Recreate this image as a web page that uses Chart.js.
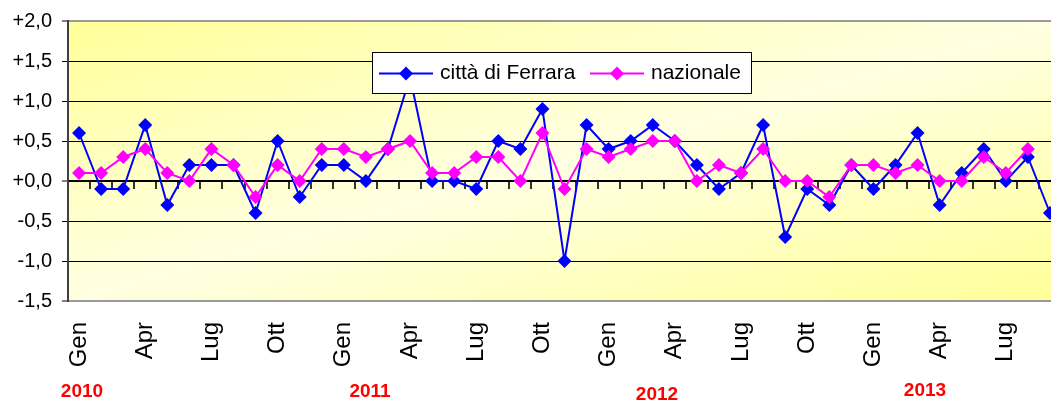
<!DOCTYPE html>
<html>
<head>
<meta charset="utf-8">
<script src="https://cdn.jsdelivr.net/npm/chart.js@4/dist/chart.umd.min.js"></script>
<style>
  html, body { margin: 0; padding: 0; overflow: hidden; background: #fff; }
  #wrap { position: relative; width: 1062px; height: 402px; }
</style>
</head>
<body>
<div id="wrap"><canvas id="c"></canvas></div>
<script>
// ---- data ----
const monthNames = ['Gen','Feb','Mar','Apr','Mag','Giu','Lug','Ago','Set','Ott','Nov','Dic'];
const years = ['2010','2011','2012','2013'];
const ferrara = [0.6,-0.1,-0.1,0.7,-0.3,0.2,0.2,0.2,-0.4,0.5,-0.2,0.2,
                 0.2,0.0,0.4,1.3,0.0,0.0,-0.1,0.5,0.4,0.9,-1.0,0.7,
                 0.4,0.5,0.7,0.5,0.2,-0.1,0.1,0.7,-0.7,-0.1,-0.3,0.2,
                 -0.1,0.2,0.6,-0.3,0.1,0.4,0.0,0.3,-0.4];
const nazionale = [0.1,0.1,0.3,0.4,0.1,0.0,0.4,0.2,-0.2,0.2,0.0,0.4,
                   0.4,0.3,0.4,0.5,0.1,0.1,0.3,0.3,0.0,0.6,-0.1,0.4,
                   0.3,0.4,0.5,0.5,0.0,0.2,0.1,0.4,0.0,0.0,-0.2,0.2,
                   0.2,0.1,0.2,0.0,0.0,0.3,0.1,0.4,null];
const yTickLabels = ['-1,5','-1,0','-0,5','+0,0','+0,5','+1,0','+1,5','+2,0'];
const seriesNames = ['città di Ferrara','nazionale'];

const categories = [];
years.forEach(y => monthNames.forEach(m => categories.push(m + ' ' + y)));
categories.length = ferrara.length;

const FONT = "'Liberation Sans', Arial, sans-serif";
const BLUE = '#0000FF', PINK = '#FF00FF';

const plotPlugin = {
  id: 'plotDecor',
  beforeDraw(chart) {
    const {ctx, chartArea: a} = chart;
    const W = a.right - a.left, H = a.bottom - a.top;
    const cx = (a.left + a.right) / 2, cy = (a.top + a.bottom) / 2;
    const k = W * H / (W * W + H * H);
    const g = ctx.createLinearGradient(cx - H * k, cy - W * k, cx + H * k, cy + W * k);
    g.addColorStop(0, '#FFFF99');
    g.addColorStop(0.5, '#FFFFE2');
    g.addColorStop(1, '#FFFF99');
    ctx.save();
    ctx.fillStyle = g;
    ctx.fillRect(a.left, a.top, W, H);
    ctx.restore();
  },
  beforeDatasetsDraw(chart) {
    const {ctx, scales: {x, y}} = chart;
    const y0 = y.getPixelForValue(0);
    const step = x.getPixelForValue(1) - x.getPixelForValue(0);
    ctx.save();
    ctx.strokeStyle = '#000';
    ctx.lineWidth = 1.6;
    for (let i = 1; i <= categories.length; i++) {
      const px = Math.round(x.getPixelForValue(i) - step / 2);
      ctx.beginPath();
      ctx.moveTo(px, y0);
      ctx.lineTo(px, y0 + 8);
      ctx.stroke();
    }
    ctx.restore();
  },
  afterDatasetsDraw(chart) {
    const {ctx, chartArea: a} = chart;
    // legend box drawn over the plot
    const bx = a.left + 304, by = a.top + 31, bw = 379, bh = 41;
    ctx.save();
    ctx.fillStyle = '#fff';
    ctx.fillRect(bx, by, bw, bh);
    ctx.strokeStyle = '#000';
    ctx.lineWidth = 1;
    ctx.strokeRect(bx + 0.5, by + 0.5, bw, bh);
    const items = [
      {label: seriesNames[0], color: BLUE, x0: bx + 7},
      {label: seriesNames[1], color: PINK, x0: bx + 218}
    ];
    const cyL = by + bh / 2 + 1;
    items.forEach(it => {
      ctx.strokeStyle = it.color;
      ctx.lineWidth = 2;
      ctx.beginPath();
      ctx.moveTo(it.x0, cyL);
      ctx.lineTo(it.x0 + 54, cyL);
      ctx.stroke();
      ctx.fillStyle = it.color;
      const mx = it.x0 + 27, r = 7;
      ctx.beginPath();
      ctx.moveTo(mx - r, cyL); ctx.lineTo(mx, cyL - r);
      ctx.lineTo(mx + r, cyL); ctx.lineTo(mx, cyL + r);
      ctx.closePath(); ctx.fill();
      ctx.fillStyle = '#000';
      ctx.font = '21px ' + FONT;
      ctx.textBaseline = 'middle';
      ctx.textAlign = 'left';
      ctx.fillText(it.label, it.x0 + 61, cyL);
    });
    ctx.restore();
  },
  afterDraw(chart) {
    const {ctx} = chart;
    const pos = [[82, 392], [370, 392], [657, 395], [925, 391]];
    ctx.save();
    ctx.fillStyle = '#FF0000';
    ctx.font = 'bold 19px ' + FONT;
    ctx.textAlign = 'center';
    ctx.textBaseline = 'middle';
    years.forEach((yr, i) => ctx.fillText(yr, pos[i][0], pos[i][1]));
    ctx.restore();
  }
};

new Chart(document.getElementById('c'), {
  type: 'line',
  data: {
    labels: categories,
    datasets: [
      {
        label: seriesNames[0], data: ferrara, order: 2,
        borderColor: BLUE, backgroundColor: BLUE, borderWidth: 2,
        pointStyle: 'rectRot', pointRadius: 7, pointBorderWidth: 0,
        pointBackgroundColor: BLUE, tension: 0, clip: false
      },
      {
        label: seriesNames[1], data: nazionale, order: 1,
        borderColor: PINK, backgroundColor: PINK, borderWidth: 2,
        pointStyle: 'rectRot', pointRadius: 7, pointBorderWidth: 0,
        pointBackgroundColor: PINK, tension: 0, clip: false
      }
    ]
  },
  options: {
    responsive: true,
    maintainAspectRatio: false,
    animation: false,
    layout: { autoPadding: false, padding: { left: 0, right: 1, top: 21, bottom: 0 } },
    plugins: { legend: { display: false }, tooltip: { enabled: false } },
    scales: {
      x: {
        type: 'category',
        offset: true,
        grid: { display: false, drawTicks: false },
        border: { display: false },
        ticks: {
          autoSkip: false, maxRotation: 90, minRotation: 90, padding: 21,
          color: '#000', font: { family: FONT, size: 24 },
          callback: (v, i) => (i % 3 === 0 ? monthNames[i % 12] : '')
        },
        afterFit: s => { s.height = 101; s.paddingLeft = 0; s.paddingRight = 0; }
      },
      y: {
        min: -1.5, max: 2.0,
        ticks: {
          stepSize: 0.5, padding: 10, color: '#000',
          font: { family: FONT, size: 20 },
          callback: (v, i) => yTickLabels[i]
        },
        grid: {
          color: c => (c.tick && (c.tick.value === -1.5 || c.tick.value === 2) ? '#9a9a9a' : '#000'),
          lineWidth: c => (c.tick && (c.tick.value === 0 || c.tick.value === -1.5 || c.tick.value === 2) ? 2 : 1),
          tickColor: '#000', tickLength: 6, tickWidth: 1
        },
        border: { color: '#404040', width: 2 },
        afterFit: s => { s.width = 68; s.paddingTop = 0; s.paddingBottom = 0; }
      }
    }
  },
  plugins: [plotPlugin]
});
</script>
</body>
</html>
